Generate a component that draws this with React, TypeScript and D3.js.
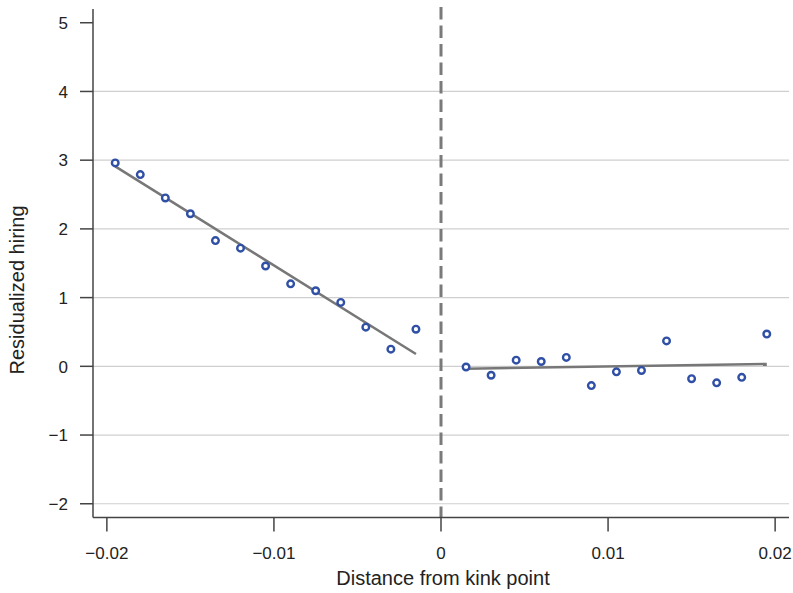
import React from "react";
import * as d3 from "d3";

const leftX = [-0.0195, -0.018, -0.0165, -0.015, -0.0135, -0.012, -0.0105, -0.009, -0.0075, -0.006, -0.0045, -0.003, -0.0015];
const leftY = [2.96, 2.79, 2.45, 2.22, 1.83, 1.72, 1.46, 1.2, 1.1, 0.93, 0.57, 0.25, 0.54];
const rightX = [0.0015, 0.003, 0.0045, 0.006, 0.0075, 0.009, 0.0105, 0.012, 0.0135, 0.015, 0.0165, 0.018, 0.0195];
const rightY = [-0.01, -0.13, 0.09, 0.07, 0.13, -0.28, -0.08, -0.06, 0.37, -0.18, -0.24, -0.16, 0.47];
const fitLeftX = [-0.0195, -0.0015];
const fitLeftY = [2.91, 0.18];
const fitRightX = [0.0015, 0.0195];
const fitRightY = [-0.035, 0.035];
const xTicks = [-0.02, -0.01, 0, 0.01, 0.02];
const xTickLabels = ["\u22120.02", "\u22120.01", "0", "0.01", "0.02"];
const yTicks = [-2, -1, 0, 1, 2, 3, 4, 5];
const yGrid = [-2, -1, 0, 1, 2, 3, 4];

const W = 793, H = 593;
const L = 93, R = 789, T = 9, B = 517.5;

export default function App() {
  const x = d3.scaleLinear().domain([-0.02083, 0.02083]).range([L, R]);
  const y = d3.scaleLinear().domain([-2.2, 5.2]).range([B, T]);
  const line = d3.line<[number, number]>().x(d => x(d[0])).y(d => y(d[1]));
  const font = "'Liberation Sans', Arial, sans-serif";
  const fmtY = (v: number) => (v < 0 ? "\u2212" + Math.abs(v) : String(v));
  const pts = [
    ...leftX.map((v, i) => [v, leftY[i]] as [number, number]),
    ...rightX.map((v, i) => [v, rightY[i]] as [number, number]),
  ];
  return (
    <svg width={W} height={H} style={{ position: "absolute", left: 0, top: 0, background: "#fff" }} fontFamily={font}>
      <rect x={0} y={0} width={W} height={H} fill="#fff" />
      {yGrid.map(v => (
        <line key={"g" + v} x1={L} x2={R} y1={y(v)} y2={y(v)} stroke="#cfcfcf" strokeWidth={1.2} />
      ))}
      <line x1={x(0)} x2={x(0)} y1={7} y2={B} stroke="#7a7a7a" strokeWidth={3} strokeDasharray="12.5,6" />
      <path d={line(fitLeftX.map((v, i) => [v, fitLeftY[i]]) as [number, number][]) || ""} stroke="#777" strokeWidth={2.5} fill="none" />
      <path d={line(fitRightX.map((v, i) => [v, fitRightY[i]]) as [number, number][]) || ""} stroke="#777" strokeWidth={2.5} fill="none" />
      {pts.map((p, i) => (
        <circle key={i} cx={x(p[0])} cy={y(p[1])} r={3.3} fill="#fff" stroke="#3050a6" strokeWidth={2.4} />
      ))}
      <line x1={L} x2={L} y1={T} y2={B} stroke="#444" strokeWidth={1.5} />
      <line x1={L} x2={R} y1={B} y2={B} stroke="#444" strokeWidth={1.5} />
      {yTicks.map(v => (
        <g key={"y" + v}>
          <line x1={L - 13} x2={L} y1={y(v)} y2={y(v)} stroke="#444" strokeWidth={1.5} />
          <text x={68} y={y(v) + 6.3} textAnchor="end" fontSize={17} fill="#222">{fmtY(v)}</text>
        </g>
      ))}
      {xTicks.map((v, i) => (
        <g key={"x" + v}>
          <line x1={x(v)} x2={x(v)} y1={B} y2={B + 14} stroke="#444" strokeWidth={1.5} />
          <text x={x(v)} y={559} textAnchor="middle" fontSize={17} fill="#222">{xTickLabels[i]}</text>
        </g>
      ))}
      <text x={443} y={585} textAnchor="middle" fontSize={20} fill="#222">Distance from kink point</text>
      <text transform={`translate(24,290) rotate(-90)`} textAnchor="middle" fontSize={20} fill="#222">Residualized hiring</text>
    </svg>
  );
}
